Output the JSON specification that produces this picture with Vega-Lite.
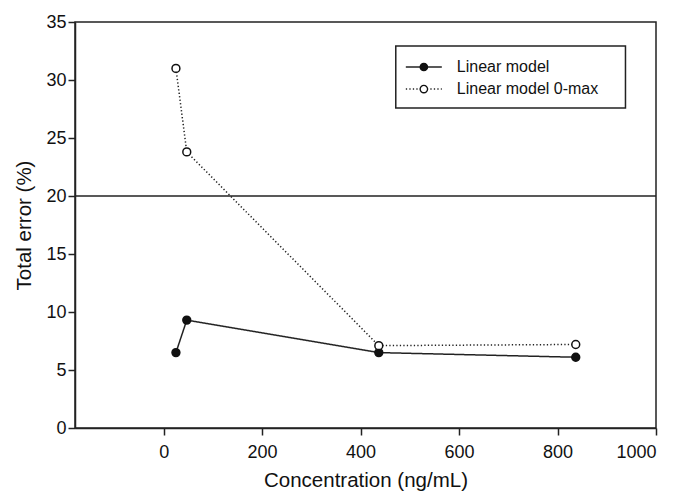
{
  "$schema": "https://vega.github.io/schema/vega-lite/v6.json",
  "width": 581,
  "height": 406,
  "autosize": "none",
  "padding": {"left": 75, "top": 22, "right": 18, "bottom": 67},
  "config": {
    "font": "Liberation Sans",
    "view": {"stroke": "#222", "strokeWidth": 1.5},
    "axis": {
      "grid": false,
      "domainColor": "#222",
      "domainWidth": 1.5,
      "tickColor": "#222",
      "tickWidth": 1.5,
      "tickSize": 7,
      "labelFontSize": 18,
      "labelColor": "#111",
      "titleFontSize": 20.5,
      "titleFontWeight": "normal",
      "titleColor": "#111"
    }
  },
  "data": {
    "values": [
      {"conc": 25, "err": 6.5, "series": "Linear model"},
      {"conc": 47, "err": 9.3, "series": "Linear model"},
      {"conc": 437, "err": 6.5, "series": "Linear model"},
      {"conc": 837, "err": 6.1, "series": "Linear model"},
      {"conc": 25, "err": 31.0, "series": "Linear model 0-max"},
      {"conc": 47, "err": 23.8, "series": "Linear model 0-max"},
      {"conc": 437, "err": 7.1, "series": "Linear model 0-max"},
      {"conc": 837, "err": 7.2, "series": "Linear model 0-max"}
    ]
  },
  "layer": [
    {
      "data": {"values": [{}]},
      "mark": {"type": "rule", "color": "#222", "strokeWidth": 1.5},
      "encoding": {"y": {"datum": 20, "type": "quantitative"}}
    },
    {
      "mark": {"type": "line", "color": "#222", "strokeWidth": 1.5},
      "encoding": {
        "x": {"field": "conc", "type": "quantitative", "scale": {"domain": [-180, 1000], "nice": false, "zero": false},
              "axis": {"values": [0, 200, 400, 600, 800, 1000], "format": "d", "labelPadding": 8, "titlePadding": 9, "title": "Concentration (ng/mL)"}},
        "y": {"field": "err", "type": "quantitative", "scale": {"domain": [0, 35], "nice": false},
              "axis": {"values": [0, 5, 10, 15, 20, 25, 30, 35], "labelPadding": 2, "titlePadding": 11, "title": "Total error (%)"}},
        "detail": {"field": "series"},
        "strokeDash": {"field": "series", "type": "nominal",
                       "scale": {"domain": ["Linear model", "Linear model 0-max"], "range": [[1, 0], [1.3, 2.2]]},
                       "legend": null}
      }
    },
    {
      "mark": {"type": "point", "filled": true, "size": 62, "stroke": "#111", "strokeWidth": 1.5, "opacity": 1},
      "encoding": {
        "x": {"field": "conc", "type": "quantitative"},
        "y": {"field": "err", "type": "quantitative"},
        "fill": {"field": "series", "type": "nominal",
                 "scale": {"domain": ["Linear model", "Linear model 0-max"], "range": ["#111", "white"]},
                 "legend": null}
      }
    },
    {
      "data": {"values": [{}]},
      "mark": {"type": "rect", "fill": "white", "stroke": "#222", "strokeWidth": 1.5},
      "encoding": {
        "x": {"datum": 471.5, "type": "quantitative"},
        "x2": {"datum": 938},
        "y": {"datum": 32.93, "type": "quantitative"},
        "y2": {"datum": 27.59}
      }
    },
    {
      "data": {"values": [{}]},
      "mark": {"type": "rule", "color": "#222", "strokeWidth": 1.5},
      "encoding": {
        "x": {"datum": 491.9, "type": "quantitative"},
        "x2": {"datum": 565},
        "y": {"datum": 31.12, "type": "quantitative"}
      }
    },
    {
      "data": {"values": [{}]},
      "mark": {"type": "rule", "color": "#222", "strokeWidth": 1.5, "strokeDash": [1.3, 2.2]},
      "encoding": {
        "x": {"datum": 491.9, "type": "quantitative"},
        "x2": {"datum": 565},
        "y": {"datum": 29.22, "type": "quantitative"}
      }
    },
    {
      "data": {"values": [{}]},
      "mark": {"type": "point", "filled": true, "size": 55, "stroke": "#111", "strokeWidth": 1.3, "fill": "#111", "opacity": 1},
      "encoding": {
        "x": {"datum": 528.5, "type": "quantitative"},
        "y": {"datum": 31.12, "type": "quantitative"}
      }
    },
    {
      "data": {"values": [{}]},
      "mark": {"type": "point", "filled": true, "size": 55, "stroke": "#111", "strokeWidth": 1.3, "fill": "white", "opacity": 1},
      "encoding": {
        "x": {"datum": 528.5, "type": "quantitative"},
        "y": {"datum": 29.22, "type": "quantitative"}
      }
    },
    {
      "data": {"values": [{}]},
      "mark": {"type": "text", "align": "left", "baseline": "middle", "font": "Liberation Sans", "fontSize": 16, "fontWeight": "normal", "fill": "#111", "text": "Linear model"},
      "encoding": {
        "x": {"datum": 595.5, "type": "quantitative"},
        "y": {"datum": 31.12, "type": "quantitative"}
      }
    },
    {
      "data": {"values": [{}]},
      "mark": {"type": "text", "align": "left", "baseline": "middle", "font": "Liberation Sans", "fontSize": 16, "fontWeight": "normal", "fill": "#111", "text": "Linear model 0-max"},
      "encoding": {
        "x": {"datum": 595.5, "type": "quantitative"},
        "y": {"datum": 29.22, "type": "quantitative"}
      }
    }
  ]
}
